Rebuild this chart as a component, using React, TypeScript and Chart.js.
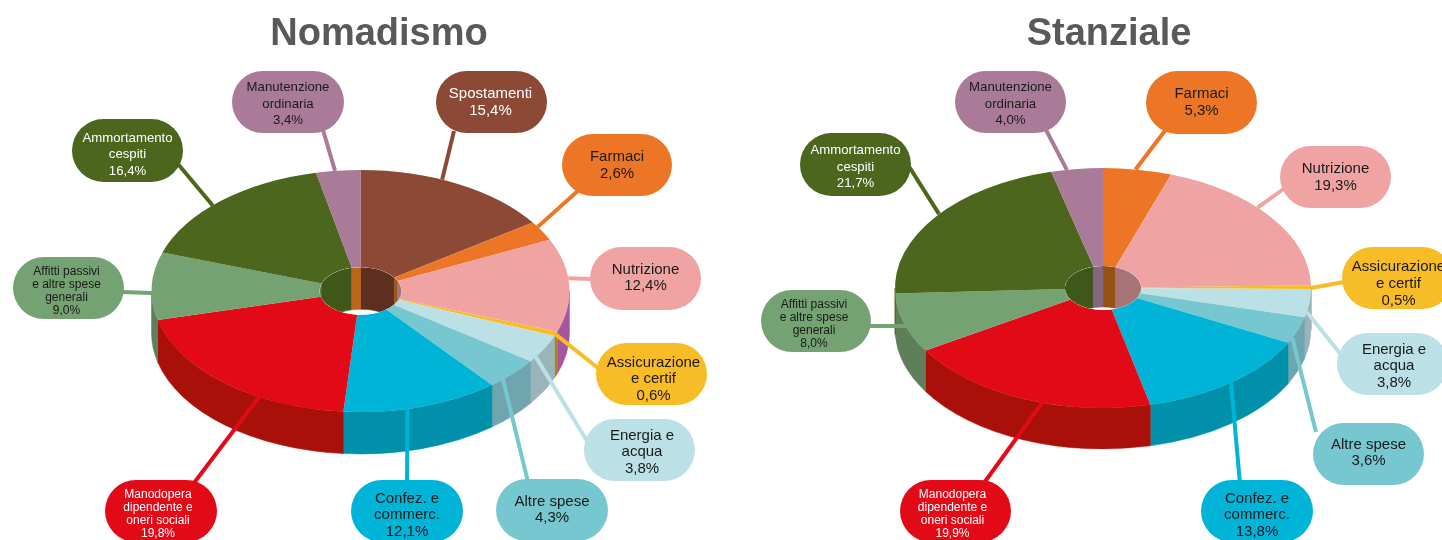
import React, { useEffect, useRef } from "react";
import { Chart, registerables } from "chart.js";

Chart.register(...registerables);

const nomadismoCategories = ["Spostamenti", "Farmaci", "Nutrizione", "Assicurazione e certif", "Energia e acqua", "Altre spese", "Confez. e commerc.", "Manodopera", "Affitti passivi", "Ammortamento cespiti", "Manutenzione ordinaria"];
const nomadismoValues = [15.4, 2.6, 12.4, 0.6, 3.8, 4.3, 12.1, 19.8, 9.0, 16.4, 3.4];
const stanzialeCategories = ["Farmaci", "Nutrizione", "Assicurazione e certif", "Energia e acqua", "Altre spese", "Confez. e commerc.", "Manodopera", "Affitti passivi", "Ammortamento cespiti", "Manutenzione ordinaria"];
const stanzialeValues = [5.3, 19.3, 0.5, 3.8, 3.6, 13.8, 19.9, 8.0, 21.7, 4.0];

const labelLines: Record<string, string[]> = {
  "Spostamenti": ["Spostamenti"],
  "Farmaci": ["Farmaci"],
  "Nutrizione": ["Nutrizione"],
  "Assicurazione e certif": ["Assicurazione", "e certif"],
  "Energia e acqua": ["Energia e", "acqua"],
  "Altre spese": ["Altre spese"],
  "Confez. e commerc.": ["Confez. e", "commerc."],
  "Manodopera": ["Manodopera", "dipendente e", "oneri sociali"],
  "Affitti passivi": ["Affitti passivi", "e altre spese", "generali"],
  "Ammortamento cespiti": ["Ammortamento", "cespiti"],
  "Manutenzione ordinaria": ["Manutenzione", "ordinaria"],
};

const topColors: Record<string, string> = {
  "Spostamenti": "#8C4A36",
  "Farmaci": "#EC7625",
  "Nutrizione": "#F0A3A3",
  "Assicurazione e certif": "#F8BC27",
  "Energia e acqua": "#BBE0E5",
  "Altre spese": "#76C7CF",
  "Confez. e commerc.": "#00B4D8",
  "Manodopera": "#E30A17",
  "Affitti passivi": "#74A272",
  "Ammortamento cespiti": "#4C661E",
  "Manutenzione ordinaria": "#A97B98",
};
const sideColors: Record<string, string> = {
  "Spostamenti": "#5E2F20",
  "Farmaci": "#9C5518",
  "Nutrizione": "#A855A0",
  "Assicurazione e certif": "#AB8318",
  "Energia e acqua": "#9AB5BA",
  "Altre spese": "#6FA5AE",
  "Confez. e commerc.": "#0090AA",
  "Manodopera": "#A81009",
  "Affitti passivi": "#5E7F5A",
  "Ammortamento cespiti": "#3F5718",
  "Manutenzione ordinaria": "#876680",
};
const innerOverridesLeft: Record<string, string> = { "Manutenzione ordinaria": "#BD6618", "Nutrizione": "#A77374" };
const innerOverridesRight: Record<string, string> = { "Farmaci": "#965012", "Nutrizione": "#A77374" };

const textColors: Record<string, string> = {
  "Spostamenti": "#ffffff",
  "Manodopera": "#ffffff",
  "Ammortamento cespiti": "#ffffff",
};

type Box = { name: string; x0: number; x1: number; y0: number; y1: number; size: number; lh: number; angle: number; lx: number; ly: number; dx: number; dy: number };
const nomadismoBoxes: Box[] = [
  { name: "Spostamenti", x0: 436, x1: 547, y0: 71, y1: 133, size: 15, lh: 17, angle: 23, lx: 454, ly: 131, dx: -1, dy: 0.5 },
  { name: "Farmaci", x0: 562, x1: 672, y0: 134, y1: 196, size: 15, lh: 17, angle: 58, lx: 580, ly: 189, dx: 0, dy: 0.5 },
  { name: "Nutrizione", x0: 590, x1: 701, y0: 247, y1: 310, size: 15, lh: 16.5, angle: 84, lx: 592, ly: 279, dx: 0, dy: -0.5 },
  { name: "Assicurazione e certif", x0: 596, x1: 707, y0: 343, y1: 405, size: 15, lh: 16.5, angle: 111, lx: 598, ly: 368, dx: 2, dy: 5 },
  { name: "Energia e acqua", x0: 584, x1: 695, y0: 419, y1: 481, size: 15, lh: 16.5, angle: 123, lx: 587, ly: 441, dx: 2.5, dy: 2 },
  { name: "Altre spese", x0: 496, x1: 608, y0: 479, y1: 541, size: 15, lh: 16.5, angle: 137, lx: 528, ly: 482, dx: 0, dy: 0 },
  { name: "Confez. e commerc.", x0: 351, x1: 463, y0: 480, y1: 542, size: 15, lh: 16.5, angle: 167, lx: 407, ly: 482, dx: 0, dy: 4 },
  { name: "Manodopera", x0: 105, x1: 217, y0: 480, y1: 542, size: 12, lh: 13, angle: 209, lx: 194, ly: 483, dx: -3, dy: 3.5 },
  { name: "Affitti passivi", x0: 13, x1: 124, y0: 257, y1: 319, size: 12, lh: 13, angle: 269, lx: 122, ly: 292, dx: -2, dy: 3.5 },
  { name: "Ammortamento cespiti", x0: 72, x1: 183, y0: 119, y1: 182, size: 13.2, lh: 16.5, angle: 315, lx: 178, ly: 164, dx: 0, dy: 4 },
  { name: "Manutenzione ordinaria", x0: 232, x1: 344, y0: 71, y1: 133, size: 13.2, lh: 16.5, angle: 353, lx: 323, ly: 130, dx: 0, dy: 2 },
];
const stanzialeBoxes: Box[] = [
  { name: "Farmaci", x0: 1146, x1: 1257, y0: 71, y1: 134, size: 15, lh: 17, angle: 9, lx: 1167, ly: 128, dx: 0, dy: 0 },
  { name: "Nutrizione", x0: 1280, x1: 1391, y0: 146, y1: 208, size: 15, lh: 17, angle: 48, lx: 1285, ly: 188, dx: 0, dy: 0.5 },
  { name: "Assicurazione e certif", x0: 1342, x1: 1453, y0: 247, y1: 309, size: 15, lh: 17, angle: 90, lx: 1344, ly: 282, dx: 1, dy: 6 },
  { name: "Energia e acqua", x0: 1337, x1: 1448, y0: 333, y1: 395, size: 15, lh: 16.5, angle: 101.5, lx: 1342, ly: 356, dx: 1.5, dy: 2 },
  { name: "Altre spese", x0: 1313, x1: 1424, y0: 423, y1: 485, size: 15, lh: 16.5, angle: 114.5, lx: 1316, ly: 432, dx: 0, dy: -1 },
  { name: "Confez. e commerc.", x0: 1201, x1: 1313, y0: 480, y1: 542, size: 15, lh: 16.5, angle: 142, lx: 1240, ly: 484, dx: 0, dy: 4 },
  { name: "Manodopera", x0: 900, x1: 1011, y0: 480, y1: 542, size: 12, lh: 13, angle: 197, lx: 984, ly: 483, dx: -3, dy: 3.5 },
  { name: "Affitti passivi", x0: 761, x1: 871, y0: 290, y1: 352, size: 12, lh: 13, angle: 251.5, lx: 869, ly: 326, dx: -2, dy: 3.5 },
  { name: "Ammortamento cespiti", x0: 800, x1: 911, y0: 133, y1: 196, size: 13.2, lh: 16.5, angle: 308, lx: 903, ly: 157, dx: 0, dy: 2.5 },
  { name: "Manutenzione ordinaria", x0: 955, x1: 1066, y0: 71, y1: 133, size: 13.2, lh: 16.5, angle: 350, lx: 1045, ly: 128, dx: 0, dy: 2 },
];

const FONT = "'Liberation Sans', Arial, sans-serif";

type View = {
  title: string; categories: string[]; values: number[]; boxes: Box[]; inner: Record<string, string>;
  left: number; width: number; cx: number; cy: number; radius: number; squash: number; cutout: string; depth: number;
};
const views: View[] = [
  { title: "Nomadismo", categories: nomadismoCategories, values: nomadismoValues, boxes: nomadismoBoxes, inner: innerOverridesLeft, left: 0, width: 758, cx: 360.5, cy: 291, radius: 209, squash: 121 / 209, cutout: "19.6%", depth: 42 },
  { title: "Stanziale", categories: stanzialeCategories, values: stanzialeValues, boxes: stanzialeBoxes, inner: innerOverridesRight, left: 760, width: 698, cx: 1103, cy: 288, radius: 208, squash: 120 / 208, cutout: "18.3%", depth: 41 },
];

function ribbon(ctx: CanvasRenderingContext2D, x: number, y: number, rx: number, ry: number, a0: number, a1: number, depth: number, color: string) {
  ctx.beginPath();
  ctx.ellipse(x, y, rx, ry, 0, a0, a1, false);
  ctx.ellipse(x, y + depth, rx, ry, 0, a1, a0, true);
  ctx.closePath();
  ctx.fillStyle = color;
  ctx.fill();
  ctx.strokeStyle = color;
  ctx.lineWidth = 0.5;
  ctx.stroke();
}

function makePlugin(view: View) {
  const px = view.cx - view.left;
  return {
    id: "pie3d",
    beforeDatasetsDraw(chart: any) {
      const ctx: CanvasRenderingContext2D = chart.ctx;
      const arcs = chart.getDatasetMeta(0).data;
      arcs.forEach((a: any, i: number) => {
        const s = Math.max(a.startAngle, 0);
        const e = Math.min(a.endAngle, Math.PI);
        if (e > s) ribbon(ctx, px, view.cy, a.outerRadius, a.outerRadius * view.squash, s, e, view.depth, sideColors[view.categories[i]]);
      });
    },
    beforeDatasetDraw(chart: any) {
      const ctx: CanvasRenderingContext2D = chart.ctx;
      const a0 = chart.getDatasetMeta(0).data[0];
      ctx.save();
      ctx.translate(px, view.cy);
      ctx.scale(1, view.squash);
      ctx.translate(-a0.x, -a0.y);
    },
    afterDatasetDraw(chart: any) {
      chart.ctx.restore();
    },
    afterDatasetsDraw(chart: any) {
      const ctx: CanvasRenderingContext2D = chart.ctx;
      const arcs = chart.getDatasetMeta(0).data;
      // Back wall of the centre hole
      ctx.save();
      const a0 = arcs[0];
      const hr = a0.innerRadius;
      const hy = hr * view.squash;
      ctx.beginPath();
      ctx.ellipse(px, view.cy, hr, hy, 0, 0, Math.PI * 2);
      ctx.fillStyle = "#ffffff";
      ctx.fill();
      ctx.clip();
      arcs.forEach((a: any, i: number) => {
        const name = view.categories[i];
        const color = view.inner[name] || sideColors[name];
        [[-Math.PI / 2, 0], [Math.PI, Math.PI * 1.5]].forEach(([lo, hi]) => {
          const s = Math.max(a.startAngle, lo);
          const e = Math.min(a.endAngle, hi);
          if (e > s) ribbon(ctx, px, view.cy, hr, hy, s, e, view.depth, color);
        });
      });
      ctx.restore();
      // Leaders and pills
      ctx.save();
      ctx.translate(-view.left, 0);
      view.boxes.forEach((b) => {
        const idx = view.categories.indexOf(b.name);
        const a = arcs[idx];
        const t = ((b.angle - 90) * Math.PI) / 180;
        const ex = view.cx + a.outerRadius * Math.cos(t);
        const ey = view.cy + a.outerRadius * view.squash * Math.sin(t);
        const color = topColors[b.name];
        ctx.beginPath();
        ctx.moveTo(ex, ey);
        ctx.lineTo(b.lx, b.ly);
        ctx.strokeStyle = color;
        ctx.lineWidth = 4;
        ctx.stroke();
        const h = b.y1 - b.y0;
        ctx.beginPath();
        ctx.roundRect(b.x0, b.y0, b.x1 - b.x0, h, h / 2);
        ctx.fillStyle = color;
        ctx.fill();
        const lines = [...labelLines[b.name], view.values[idx].toFixed(1).replace(".", ",") + "%"];
        ctx.font = `${b.size}px ${FONT}`;
        ctx.fillStyle = textColors[b.name] || "#1a1a1a";
        ctx.textAlign = "center";
        ctx.textBaseline = "middle";
        const mx = (b.x0 + b.x1) / 2 + b.dx;
        const my = (b.y0 + b.y1) / 2 + b.dy;
        lines.forEach((l, k) => {
          ctx.fillText(l, mx, my + (k - (lines.length - 1) / 2) * b.lh);
        });
      });
      ctx.restore();
    },
  };
}

function Pie({ view }: { view: View }) {
  const ref = useRef<HTMLCanvasElement>(null);
  useEffect(() => {
    const chart = new Chart(ref.current as HTMLCanvasElement, {
      type: "doughnut",
      data: {
        labels: view.categories,
        datasets: [{
          data: view.values,
          backgroundColor: view.categories.map((c) => topColors[c]),
          borderWidth: 0,
          clip: false,
        } as any],
      },
      options: {
        responsive: false,
        animation: false,
        events: [],
        radius: view.radius,
        cutout: view.cutout,
        plugins: {
          legend: { display: false },
          tooltip: { enabled: false },
          title: {
            display: true,
            text: view.title,
            color: "#595959",
            font: { family: FONT, size: 38, weight: "bold" },
            padding: { top: 12, bottom: 10 },
          },
        },
      } as any,
      plugins: [makePlugin(view)],
    });
    return () => chart.destroy();
  }, [view]);
  return (
    <canvas
      ref={ref}
      width={view.width}
      height={540}
      style={{ position: "absolute", left: view.left, top: 0, width: view.width, height: 540 }}
    />
  );
}

export default function App() {
  return (
    <div style={{ position: "fixed", left: 0, top: 0, width: 1442, height: 540, overflow: "hidden", background: "#fff" }}>
      {views.map((v) => (
        <Pie key={v.title} view={v} />
      ))}
    </div>
  );
}
